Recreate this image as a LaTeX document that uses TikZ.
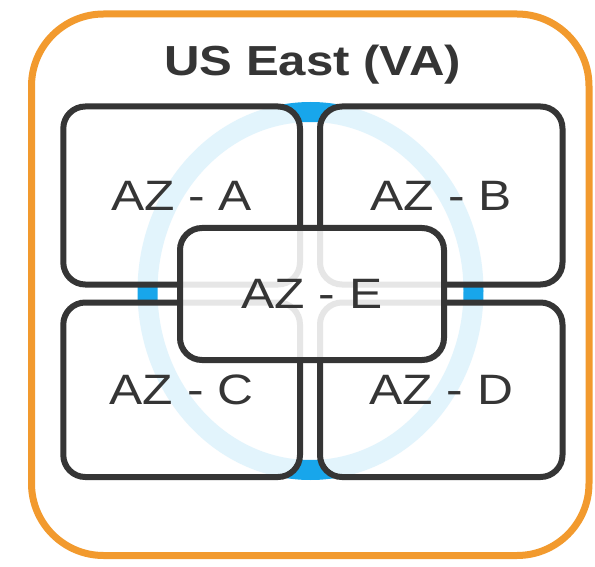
\documentclass[tikz,border=0pt]{standalone}
\usepackage{graphicx}
\usepackage{fontspec}
\setmainfont{Liberation Sans}
\definecolor{orng}{HTML}{F29A2E}
\definecolor{dark}{HTML}{353535}
\definecolor{ringblue}{HTML}{18A6EB}
\newcommand\widetext[1]{\scalebox{1.17}[1]{#1}}
\begin{document}
\begin{tikzpicture}[x=1pt,y=-1pt,
  region/.style={draw=orng, line width=7pt, rounded corners=72pt, fill=white, inner sep=0pt},
  zone/.style={draw=dark, line width=6pt, rounded corners=22pt, fill=white, fill opacity=0.88,
    text opacity=1, inner sep=0pt, text=dark, font=\fontsize{42.5}{50}\selectfont},
  titletext/.style={inner sep=0pt, anchor=base, text=dark, font=\bfseries\fontsize{42}{50}\selectfont},
  ringline/.style={draw=ringblue, line width=20pt}]
\useasboundingbox (0,0) rectangle (595,567);
\node[region, minimum width=557.5pt, minimum height=541.5pt] (region) at (310.25,284.75) {};
\draw[ringline] (310.5,291) ellipse [x radius=163pt, y radius=179pt];
\node[zone, minimum width=236.7pt, minimum height=178pt] (A) at (181.65,195.5) {\widetext{AZ - A}};
\node[zone, minimum width=242.5pt, minimum height=178pt] (B) at (441.25,195.5) {\widetext{AZ - B}};
\node[zone, minimum width=236.7pt, minimum height=174.5pt] (C) at (181.65,389.75) {\widetext{AZ - C}};
\node[zone, minimum width=242.5pt, minimum height=174.5pt] (D) at (441.25,389.75) {\widetext{AZ - D}};
\node[zone, minimum width=264pt, minimum height=132pt] (E) at (312,294) {\widetext{AZ - E}};
\node[titletext] (title) at (312.5,76) {\widetext{US East (VA)}};
\end{tikzpicture}
\end{document}
